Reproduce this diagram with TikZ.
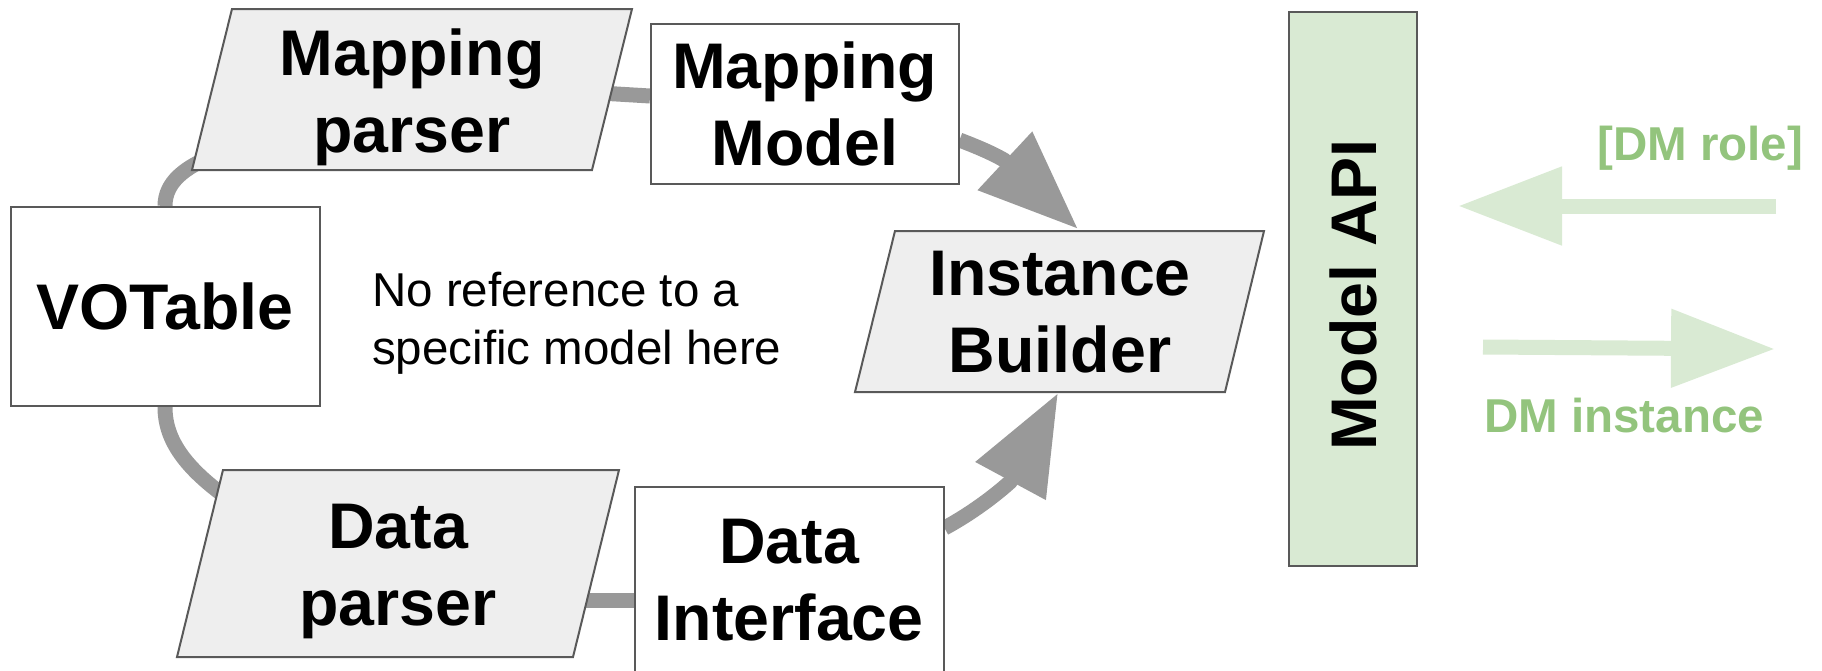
\documentclass[tikz,border=0pt]{standalone}
\usepackage{fontspec}
\setmainfont{Liberation Sans}
\usetikzlibrary{arrows.meta}
\definecolor{boxfill}{HTML}{EEEEEE}
\definecolor{edgegray}{HTML}{595959}
\definecolor{conngray}{HTML}{999999}
\definecolor{apifill}{HTML}{D9EAD3}
\definecolor{greentext}{HTML}{93C47D}
\pgfdeclarelayer{bg}
\pgfsetlayers{bg,main}
\newcommand\nodepth[1]{\raisebox{0pt}[\height][0pt]{#1}}
\begin{document}
\begin{tikzpicture}[x=1pt,y=-1pt,
  lbl/.style={font=\bfseries\fontsize{64.5}{77}\selectfont, align=center, inner sep=0pt},
  whitebox/.style={lbl, draw=edgegray, line width=2pt, fill=white, rectangle},
  parbox/.style={draw=edgegray, line width=2pt, fill=boxfill, line join=miter},
  connector/.style={draw=conngray, line width=15pt},
  bigarrow/.style={connector, -{Triangle[length=100pt,width=76pt]}},
  greenarrow/.style={draw=apifill, line width=15pt, -{Triangle[length=104pt,width=75pt]}},
  note/.style={font=\fontsize{47.5}{58}\selectfont, align=left, inner sep=0pt},
  greenlbl/.style={font=\bfseries\fontsize{47.5}{58}\selectfont, text=greentext, inner sep=0pt}
]
\useasboundingbox (0,0) rectangle (1822,670);

% VOTable
\node[whitebox, minimum width=309pt, minimum height=199pt] (vot) at (165,306.5) {VOTable};

% Mapping parser
\draw[parbox] (232,9) -- (632,9) -- (592,170) -- (192,170) -- cycle;
\node[lbl] (mp) at (412,90.5) {Mapping\\\nodepth{parser}};
\coordinate (mpin) at (215,155);
\coordinate (mpout) at (600,93);

% Mapping Model
\node[whitebox, minimum width=307.5pt, minimum height=160pt] (mm) at (804.75,104) {Mapping\\Model};

% Instance Builder
\draw[parbox] (895,231) -- (1264,231) -- (1225,392) -- (855,392) -- cycle;
\node[lbl] (ib) at (1060,312) {Instance\\Builder};
\coordinate (ibtop) at (1078,229);
\coordinate (ibtopbase) at (1004,160);
\coordinate (ibbot) at (1058,393);
\coordinate (ibbotbase) at (1010,482);

% Data parser
\draw[parbox] (223,470) -- (619,470) -- (573,657) -- (177,657) -- cycle;
\node[lbl] (dp) at (398,564.5) {Data\\\nodepth{parser}};
\coordinate (dpin) at (230,500);
\coordinate (dpout) at (560,600);

% Data Interface
\node[whitebox, minimum width=308.5pt, minimum height=186pt] (di) at (789.25,580) {Data\\Interface};

% Model API
\node[draw=edgegray, line width=2pt, fill=apifill, minimum width=128pt, minimum height=554pt, inner sep=0pt] (api) at (1353,289) {};
\node[lbl, rotate=90] (apilbl) at (1353,295) {Model API};

% note text
\node[note, anchor=west] (noref) at (372,323.7) {No reference to a\\specific model here};

% green arrows and labels
\coordinate (g1s) at (1776,206);
\coordinate (g1e) at (1458,206);
\coordinate (g2s) at (1483,347);
\coordinate (g2e) at (1775,349);
\draw[greenarrow] (g1s) -- (g1e);
\draw[greenarrow] (g2s) -- (g2e);
\node[greenlbl, anchor=base west] (dmrole) at (1597,160) {[DM role]};
\node[greenlbl, anchor=base west] (dminst) at (1484,432) {DM instance};

% connectors behind the shapes
\begin{pgfonlayer}{bg}
\draw[connector] (vot.north) .. controls (165,182) and (185,167) .. (mpin);
\draw[connector] (vot.south) .. controls (165,440) and (185,468) .. (dpin);
\draw[connector] (mpout) -- ([yshift=8pt]mm.west);
\draw[connector] (dpout) -- ([yshift=-20pt]di.west);
\draw[bigarrow] ([yshift=-36pt]mm.east) .. controls (975,146) and (990,152) .. (ibtopbase) -- (ibtop);
\draw[bigarrow] ([yshift=52pt]di.east) .. controls (965,517) and (990,500) .. (ibbotbase) -- (ibbot);
\end{pgfonlayer}
\end{tikzpicture}
\end{document}
